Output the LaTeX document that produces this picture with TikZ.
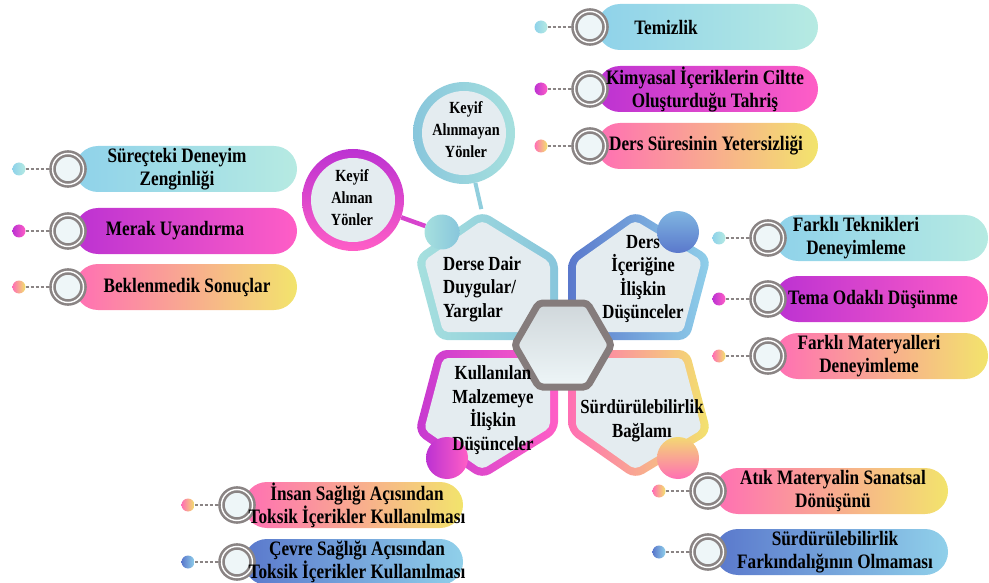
\documentclass[tikz,border=0pt]{standalone}
\usepackage{fontspec}
\setmainfont{Liberation Serif}[FakeStretch=0.84]
\usepackage{tikz}

\definecolor{ringgray}{HTML}{8A8484}
\definecolor{ringfill}{HTML}{EEF6F8}
\definecolor{hexgray}{HTML}{857C7C}
\definecolor{panefill}{HTML}{E4ECF0}
\definecolor{tealA}{HTML}{8FD2EA}
\definecolor{tealB}{HTML}{B6EAE2}
\definecolor{cyanA}{HTML}{A6E0DE}
\definecolor{cyanB}{HTML}{88C6DC}
\definecolor{magA}{HTML}{BC32D2}
\definecolor{magB}{HTML}{FF5EC6}
\definecolor{sunA}{HTML}{FF6FB4}
\definecolor{sunB}{HTML}{F2E46C}
\definecolor{bluA}{HTML}{5A78CC}
\definecolor{bluB}{HTML}{90D0EA}

% one item: name, y, ring x, right end, colour set, text x, text
\newcommand\pill[7]{%
  \shade[left color=#5A, right color=#5B, rounded corners=23pt]
    ({#3+7},{#2-23}) rectangle (#4,{#2+23});
  \node[bead, left color=#5A, right color=#5B] (#1d) at ({#3-49},#2) {};
  \node[ring] (#1r) at (#3,#2) {};
  \draw[leader] (#1d) -- (#1r);
  \node[pilltext] (#1t) at (#6,#2) {#7};
}

% petal outline and inner face: x sign, y sign, apex offset
\newcommand\petalout[3]{({563-#3*#1},{345-134*#2}) -- ({563-5*#1},{345-87*#2}) -- ({563-5*#1},{345-5*#2}) -- ({563-126*#1},{345-5*#2}) -- ({563-148*#1},{345-88*#2}) -- cycle}
\newcommand\petalin[3]{({563-#3*#1},{345-124.5*#2}) -- ({563-13*#1},{345-82.7*#2}) -- ({563-13*#1},{345-13*#2}) -- ({563-119.9*#1},{345-13*#2}) -- ({563-138.8*#1},{345-84.5*#2}) -- cycle}

\begin{document}
\begin{tikzpicture}[
            x = 1pt, y = -1pt, % pixel grid, y going down
            bead/.style = {circle, minimum size=13pt, inner sep=0pt},
            ring/.style = {circle, draw=ringgray, line width=2.6pt, double=white,
                           double distance=1.4pt, fill=ringfill, minimum size=31pt, inner sep=0pt},
            leader/.style = {ringgray, line width=1.1pt, dash pattern=on 3pt off 2pt},
            pilltext/.style = {font=\bfseries\fontsize{20.5}{23}\selectfont, align=center, inner sep=0pt},
            paneltext/.style = {font=\bfseries\fontsize{20}{23.5}\selectfont, align=center, inner sep=0pt},
            keytext/.style = {font=\bfseries\fontsize{17}{22}\selectfont, align=center, inner sep=0pt},
            keyring/.style = {circle, minimum size=102pt, inner sep=0pt},
            keycore/.style = {circle, fill=panefill, minimum size=84pt, inner sep=0pt},
            knob/.style = {circle, inner sep=0pt},
            petal edge/.style = {rounded corners=10pt},
            petal face/.style = {rounded corners=5pt, fill=panefill}
        ]

        \useasboundingbox (0,0) rectangle (989,583);

        % the two "Keyif" circles
        \node[keyring, top color=magA, bottom color=magB] (kan) at (353,200) {};
        \node[keycore] (kanc) at (353,200) {};
        \node[keytext] (kant) at (352,198) {Keyif\\Alınan\\Yönler};

        \node[keyring, left color=cyanB, right color=cyanA] (kam) at (464,133) {};
        \node[keycore] (kamc) at (464,133) {};
        \node[keytext] (kamt) at (466,130) {Keyif\\Alınmayan\\Yönler};

        % four petals
        \shade[petal edge, left color=cyanA, right color=cyanB] \petalout{1}{1}{81};
        \fill[petal face] \petalin{1}{1}{81};
        \shade[petal edge, left color=bluA, right color=bluB] \petalout{(-1)}{1}{72};
        \fill[petal face] \petalin{(-1)}{1}{72};
        \shade[petal edge, left color=magA!85!magB, right color=magB] \petalout{1}{(-1)}{81};
        \fill[petal face] \petalin{1}{(-1)}{81};
        \shade[petal edge, left color=sunA, right color=sunB] \petalout{(-1)}{(-1)}{72};
        \fill[petal face] \petalin{(-1)}{(-1)}{72};

        % centre hexagon
        \shadedraw[draw=hexgray, line width=7pt, rounded corners=4pt,
            top color=panefill!85!black!60!panefill, bottom color=ringfill]
            (611.5,345) -- (587.25,303) -- (538.75,303) -- (514.5,345)
            -- (538.75,387) -- (587.25,387) -- cycle;

        % knobs on the petals
        \node[knob, minimum size=35pt, left color=cyanA, right color=cyanB] (dTL) at (442,232) {};
        \node[knob, minimum size=42pt, top color=bluB!70!bluA, bottom color=bluA] (dTR) at (678,232) {};
        \node[knob, minimum size=42pt, left color=magA, right color=magB] (dBL) at (447,458) {};
        \node[knob, minimum size=42pt, top color=sunB!90!sunA, bottom color=sunA] (dBR) at (678,458) {};

        \coordinate (apexTL) at (482,212);
        \draw[magA!60!magB, line width=4.5pt] (kan) -- (dTL);
        \draw[cyanB!70!cyanA, line width=4pt, shorten >=3pt] (kam) -- (apexTL);

        % petal texts
        \node[paneltext, align=left, anchor=west] (tTL) at (443,289) {Derse Dair\\Duygular/\\Yargılar};
        \node[paneltext] (tTR) at (643,279) {Ders\\İçeriğine\\İlişkin\\Düşünceler};
        \node[paneltext] (tBL) at (493,410) {Kullanılan\\Malzemeye\\İlişkin\\Düşünceler};
        \node[paneltext] (tBR) at (642,421) {Sürdürülebilirlik\\Bağlamı};

        % items
        \pill{tem}{27}{590}{818}{teal}{666}{Temizlik}
        \pill{kim}{89}{590}{818}{mag}{705}{Kimyasal İçeriklerin Ciltte\\Oluşturduğu Tahriş}
        \pill{drs}{146}{590}{818}{sun}{706}{Ders Süresinin Yetersizliği}

        \pill{sdz}{169}{68}{297}{teal}{177}{Süreçteki Deneyim\\Zenginliği}
        \pill{mrk}{231}{68}{297}{mag}{175}{Merak Uyandırma}
        \pill{bks}{287}{68}{297}{sun}{187}{Beklenmedik Sonuçlar}

        \pill{ftd}{238}{768}{988}{teal}{856}{Farklı Teknikleri\\Deneyimleme}
        \pill{tod}{299}{768}{988}{mag}{873}{Tema Odaklı Düşünme}
        \pill{fmd}{356}{768}{988}{sun}{869}{Farklı Materyalleri\\Deneyimleme}

        \pill{isa}{505}{237}{463}{sun}{357}{İnsan Sağlığı Açısından\\Toksik İçerikler Kullanılması}
        \pill{csa}{562}{237}{463}{blu}{357}{Çevre Sağlığı Açısından\\Toksik İçerikler Kullanılması}

        \pill{ams}{491}{708}{948}{sun}{833}{Atık Materyalin Sanatsal\\Dönüşünü}
        \pill{sfo}{552}{708}{948}{blu}{835}{Sürdürülebilirlik\\Farkındalığının Olmaması}

    \end{tikzpicture}
\end{document}
